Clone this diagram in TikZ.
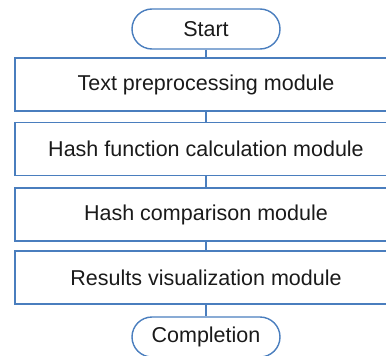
\documentclass[tikz,border=0pt]{standalone}
\usepackage{fontspec}
\setmainfont{Liberation Sans}
\definecolor{edge}{HTML}{4A7EBE}
\definecolor{ink}{HTML}{1A1A1A}
\begin{document}
\begin{tikzpicture}[x=1pt,y=1pt,
  every node/.style={text=ink,font=\fontsize{21.5}{26}\selectfont},
  term/.style={draw=edge,line width=1.4pt,minimum width=148pt,minimum height=40pt,rounded corners=20pt,inner sep=0pt},
  modbox/.style={draw=edge,line width=1.4pt,minimum width=382pt,minimum height=53pt,inner sep=0pt},
  link/.style={draw=edge,line width=1.4pt}]
\useasboundingbox (0,0) rectangle (386,-356);
\clip (0,0) rectangle (386,-356);
\node[term] (start) at (206,-29) {Start};
\node[modbox] (m1) at (206,-84.5) {Text preprocessing module};
\node[modbox] (m2) at (206,-149) {Hash function calculation module};
\node[modbox] (m3) at (206,-214.5) {Hash comparison module};
\node[modbox] (m4) at (206,-277.5) {Results visualization module};
\node[term] (end) at (206,-337) {Completion};
\draw[link] (start) -- (m1);
\draw[link] (m1) -- (m2);
\draw[link] (m2) -- (m3);
\draw[link] (m3) -- (m4);
\draw[link] (m4) -- (end);
\end{tikzpicture}
\end{document}
